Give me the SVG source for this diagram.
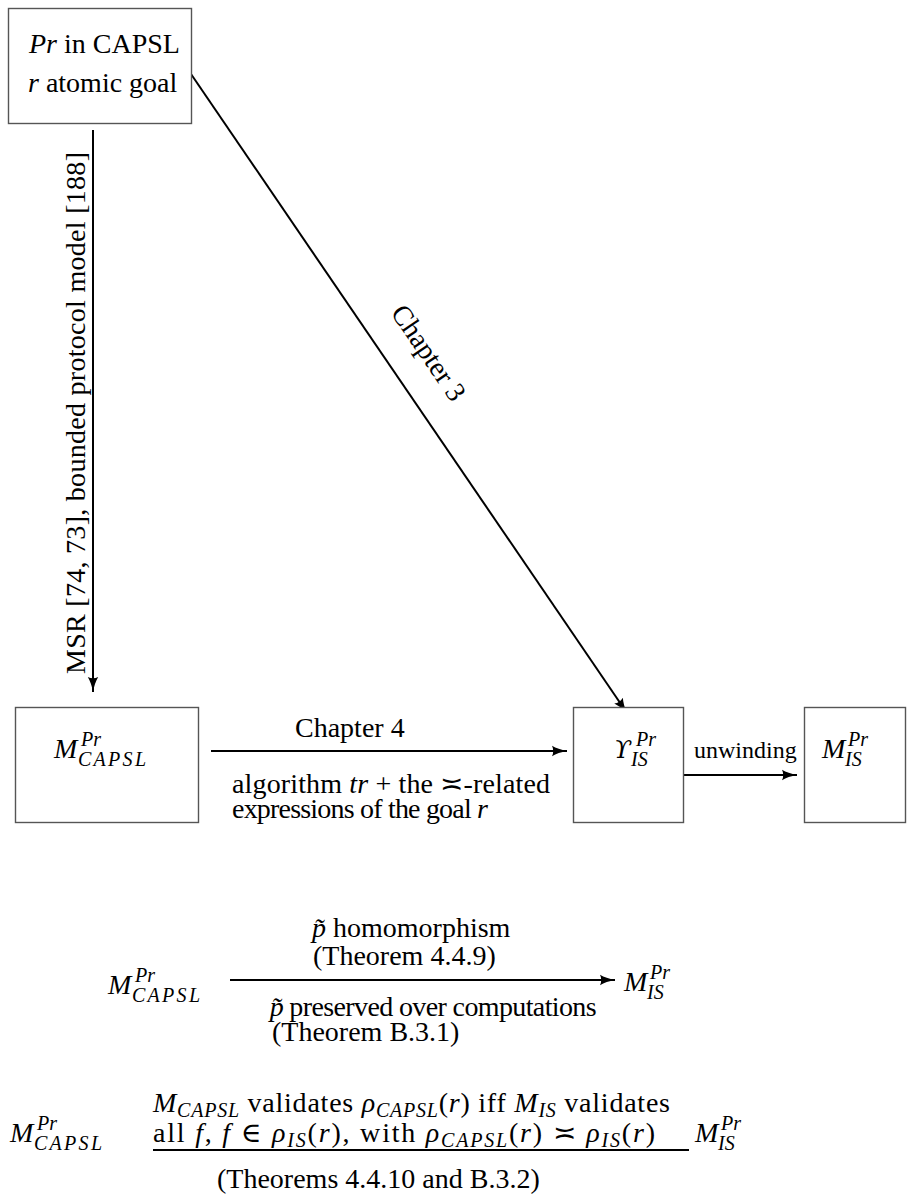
<svg xmlns="http://www.w3.org/2000/svg" width="907" height="1195" viewBox="0 0 907 1195">
  <style>
    .t { font-family: "Liberation Serif", "DejaVu Serif", serif; font-size: 28px; fill: #000; }
    .i { font-style: italic; }
    .s { font-size: 20px; }
    .u { font-size: 24px; }
    .g { font-family: "DejaVu Serif", "Liberation Serif", serif; font-size: 25px; }
    .box { fill: #fff; stroke: #555; stroke-width: 1.4; }
    .ln { stroke: #000; stroke-width: 2; fill: none; }
  </style>
  <defs>
    <marker id="ah" markerUnits="userSpaceOnUse" markerWidth="16" markerHeight="12" refX="15" refY="6" orient="auto">
      <path d="M0,0.8 Q6,4.4 15,6 Q6,7.6 0,11.2 Q2.5,6 0,0.8 Z" fill="#000"/>
    </marker>
  </defs>
  <rect width="907" height="1195" fill="#fff"/>

  <!-- connectors and their labels -->
  <g id="connectors">
    <line class="ln" x1="93" y1="130" x2="93" y2="692" marker-end="url(#ah)"/>
    <text class="t" transform="translate(85,674) rotate(-90)" x="0" y="0" textLength="522" lengthAdjust="spacing">MSR [74, 73], bounded protocol model [188]</text>

    <line class="ln" x1="191" y1="74" x2="627" y2="713" marker-end="url(#ah)"/>
    <text class="t" transform="translate(421,358) rotate(55.7)" x="0" y="0" text-anchor="middle">Chapter 3</text>

    <line class="ln" x1="211" y1="751" x2="567" y2="751" marker-end="url(#ah)"/>
    <text class="t" x="295" y="737">Chapter 4</text>
    <text class="t" x="232" y="793" textLength="318" lengthAdjust="spacing">algorithm <tspan class="i">tr</tspan> + the ≍-related</text>
    <text class="t" x="232" y="818" textLength="256" lengthAdjust="spacing">expressions of the goal <tspan class="i">r</tspan></text>

    <line class="ln" x1="684" y1="775" x2="797" y2="775" marker-end="url(#ah)"/>
    <text class="t u" x="694" y="758">unwinding</text>

    <line class="ln" x1="230" y1="980" x2="615" y2="980" marker-end="url(#ah)"/>
    <text class="t" x="312" y="937"><tspan class="i">p̃</tspan> homomorphism</text>
    <text class="t" x="313" y="965">(Theorem 4.4.9)</text>
    <text class="t" x="269" y="1016" textLength="327" lengthAdjust="spacing"><tspan class="i">p̃</tspan> preserved over computations</text>
    <text class="t" x="272" y="1041">(Theorem B.3.1)</text>

    <line class="ln" x1="153" y1="1150" x2="689" y2="1150"/>
    <text class="t" x="153" y="1112" textLength="517" lengthAdjust="spacing"><tspan class="i">M</tspan><tspan class="i s" dy="5">CAPSL</tspan><tspan dy="-5"> validates </tspan><tspan class="i">ρ</tspan><tspan class="i s" dy="5">CAPSL</tspan><tspan dy="-5">(</tspan><tspan class="i">r</tspan>) iff <tspan class="i">M</tspan><tspan class="i s" dy="5">IS</tspan><tspan dy="-5"> validates</tspan></text>
    <text class="t" x="153" y="1142" textLength="502" lengthAdjust="spacing">all <tspan class="i">f</tspan>, <tspan class="i">f</tspan> ∈ <tspan class="i">ρ</tspan><tspan class="i s" dy="5">IS</tspan><tspan dy="-5">(</tspan><tspan class="i">r</tspan>), with <tspan class="i">ρ</tspan><tspan class="i s" dy="5">CAPSL</tspan><tspan dy="-5">(</tspan><tspan class="i">r</tspan>) ≍ <tspan class="i">ρ</tspan><tspan class="i s" dy="5">IS</tspan><tspan dy="-5">(</tspan><tspan class="i">r</tspan>)</text>
    <text class="t" x="217" y="1188">(Theorems 4.4.10 and B.3.2)</text>
  </g>

  <!-- source protocol -->
  <g id="node-protocol">
    <rect class="box" x="8.5" y="8.5" width="183" height="115"/>
    <text class="t" x="29" y="53"><tspan class="i">Pr</tspan> in CAPSL</text>
    <text class="t" x="28" y="92"><tspan class="i">r</tspan> atomic goal</text>
  </g>

  <!-- CAPSL model -->
  <g id="node-m-capsl">
    <rect class="box" x="15.5" y="707.5" width="183" height="115"/>
    <text class="t i" x="54" y="758">M</text>
    <text class="t i s" x="81" y="746">Pr</text>
    <text class="t i s" x="78" y="766" textLength="68" lengthAdjust="spacing">CAPSL</text>
  </g>

  <!-- Upsilon IS -->
  <g id="node-upsilon-is">
    <rect class="box" x="573.5" y="707.5" width="110" height="115"/>
    <text class="t g i" x="614" y="758">ϒ</text>
    <text class="t i s" x="636" y="746">Pr</text>
    <text class="t i s" x="631" y="766">IS</text>
  </g>

  <!-- IS model -->
  <g id="node-m-is">
    <rect class="box" x="804.5" y="707.5" width="101" height="115"/>
    <text class="t i" x="822" y="758">M</text>
    <text class="t i s" x="848" y="746">Pr</text>
    <text class="t i s" x="845" y="766">IS</text>
  </g>

  <!-- homomorphism relation -->
  <g id="node-m-capsl-2">
    <text class="t i" x="108" y="994">M</text>
    <text class="t i s" x="135" y="982">Pr</text>
    <text class="t i s" x="132" y="1002" textLength="68" lengthAdjust="spacing">CAPSL</text>
  </g>
  <g id="node-m-is-2">
    <text class="t i" x="624" y="991">M</text>
    <text class="t i s" x="650" y="979">Pr</text>
    <text class="t i s" x="647" y="999">IS</text>
  </g>

  <!-- validation relation -->
  <g id="node-m-capsl-3">
    <text class="t i" x="10" y="1142">M</text>
    <text class="t i s" x="37" y="1130">Pr</text>
    <text class="t i s" x="34" y="1150" textLength="68" lengthAdjust="spacing">CAPSL</text>
  </g>
  <g id="node-m-is-3">
    <text class="t i" x="695" y="1142">M</text>
    <text class="t i s" x="721" y="1130">Pr</text>
    <text class="t i s" x="718" y="1150">IS</text>
  </g>
</svg>
